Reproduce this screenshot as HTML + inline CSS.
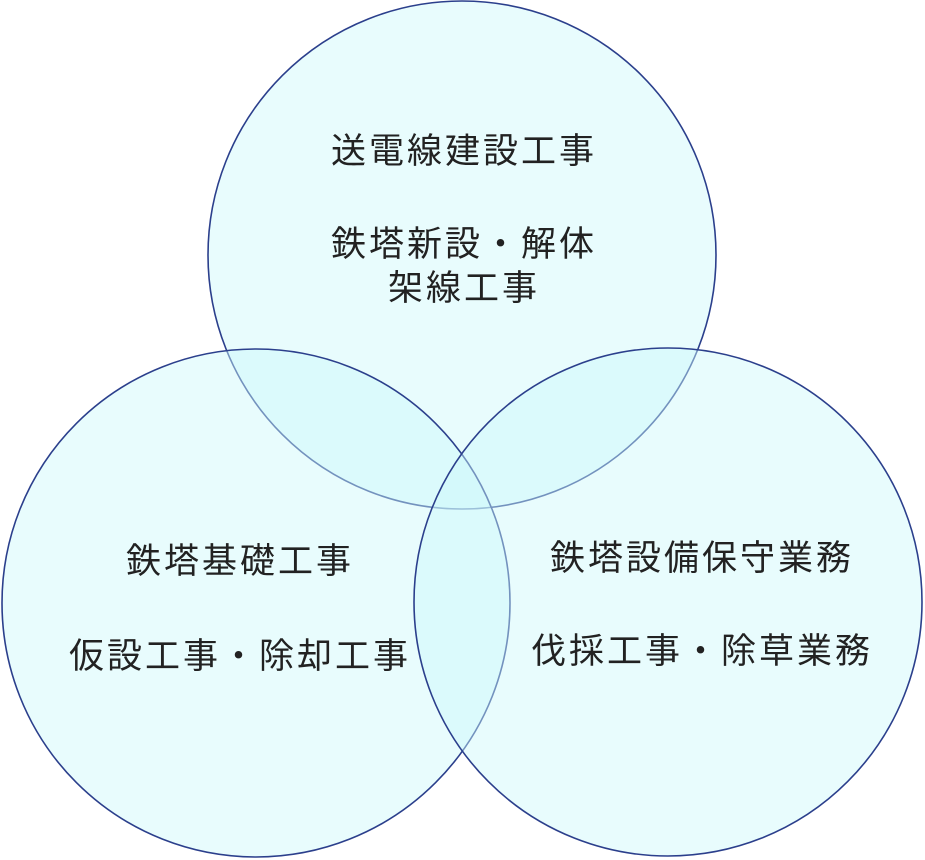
<!DOCTYPE html>
<html><head><meta charset="utf-8"><style>
html,body{margin:0;padding:0;background:#fff;}
svg{display:block}
text{font-family:"Liberation Sans","Noto Sans CJK JP",sans-serif;font-size:35px;fill:#222;text-anchor:middle;letter-spacing:3px}
</style></head><body>
<svg width="925" height="860" viewBox="0 0 925 860">
<g stroke="#2b3f8c" stroke-width="1.6">
<circle cx="462" cy="255" r="254" fill="rgb(205,248,250)" fill-opacity="0.45"/>
<circle cx="256" cy="603" r="254" fill="rgb(205,248,250)" fill-opacity="0.45"/>
<circle cx="668" cy="602" r="254" fill="rgb(205,248,250)" fill-opacity="0.45"/>
</g>
<text x="464" y="163">送電線建設工事</text>
<text x="464" y="256">鉄塔新設・解体</text>
<text x="464" y="300">架線工事</text>
<text x="240" y="573">鉄塔基礎工事</text>
<text x="240" y="668">仮設工事・除却工事</text>
<text x="702" y="570">鉄塔設備保守業務</text>
<text x="702" y="663">伐採工事・除草業務</text>
</svg>
</body></html>
